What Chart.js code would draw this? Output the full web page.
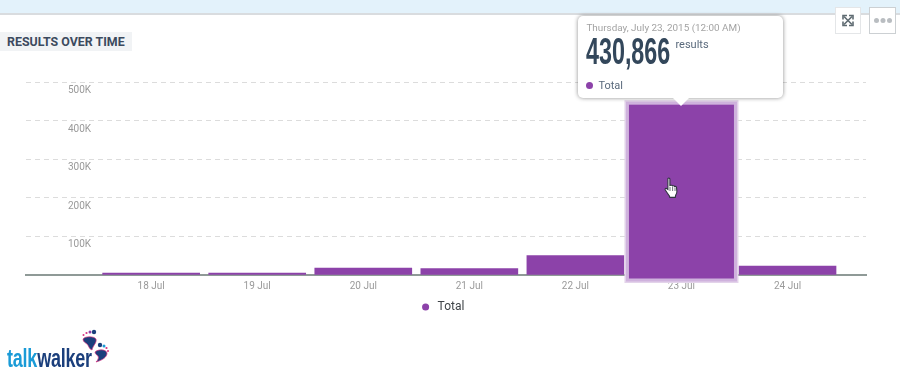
<!DOCTYPE html>
<html><head><meta charset="utf-8">
<script src="https://cdn.jsdelivr.net/npm/chart.js@4"></script>
<style>
html,body{margin:0;padding:0;background:#fff;overflow:hidden}
#wrap{position:relative;width:900px;height:378px;font-family:Roboto,sans-serif;overflow:hidden}
#c{position:absolute;left:0;top:0;width:900px;height:378px}
#band{position:absolute;left:0;top:0;width:900px;height:13px;background:#e3f2fb;border-bottom:2px solid #d9dcdf}
#title{position:absolute;left:0;top:32px;width:125px;height:19px;padding-left:7px;background:#f1f3f5;color:#3c4a5e;font:bold 12.4px/20px Roboto,sans-serif;white-space:nowrap}
.btn{position:absolute;top:7px;height:25px;background:#fff}
#tip{position:absolute;width:205px;height:82px;background:#fff;border-radius:5px;box-shadow:0 0 4px rgba(0,0,0,.45)}
#tip:after{content:"";position:absolute;left:95px;top:82px;border-left:8px solid transparent;border-right:8px solid transparent;border-top:8px solid #fff}
#tipDate{position:absolute;left:8px;top:5px;font-size:9.9px;line-height:14px;color:#a3a3a3;white-space:nowrap}
#tipVal{position:absolute;left:8px;top:17px;font:bold 37px/37px "Liberation Sans Narrow",sans-serif;color:#33475b;white-space:nowrap;transform-origin:0 0;transform:scaleX(.63)}
#tipUnit{position:absolute;left:97px;top:22px;font-size:11px;line-height:14px;color:#5a6a7c}
#tipDot{position:absolute;left:8px;top:66px;width:7px;height:7px;border-radius:50%;background:#8c42a9}
#tipName{position:absolute;left:20px;top:62px;font-size:11px;line-height:15px;color:#5a6a7c}
#cursor{position:absolute;left:664px;top:177px}
#logo{position:absolute;left:7px;top:346px;font:bold 25px/25px "Liberation Sans Narrow",sans-serif;white-space:nowrap;transform-origin:0 0;transform:scaleX(.72);letter-spacing:-.3px}
#logo .a{color:#1a9bd7}#logo .b{color:#1b3f7c}
#feet{position:absolute;left:80px;top:328px}
</style></head>
<body><div id="wrap">
<canvas id="c" width="900" height="378"></canvas>
<div id="band"></div>
<div id="title">RESULTS OVER TIME</div>
<div class="btn" style="left:835px;width:24px;border:1px solid #e4e6e8">
<svg width="24" height="25" viewBox="0 0 24 25" fill="none" stroke="#5f6b72" stroke-width="1.6"><path d="M8 8.500l8 8M16 8.500l-8 8"/><path d="M7 11.500v-4h4M17 11.500v-4h-4M7 13.500v4h4M17 13.500v4h-4" stroke-width="1.6"/></svg></div>
<div class="btn" style="left:869px;width:25px;border:1px solid #ccd0d3">
<svg width="25" height="25" viewBox="0 0 25 25" fill="#b9bdc1"><circle cx="6.500" cy="12.500" r="2.500"/><circle cx="13" cy="12.500" r="2.500"/><circle cx="19.500" cy="12.500" r="2.500"/></svg></div>
<div id="tip">
<div id="tipDate"></div><div id="tipVal"></div><div id="tipUnit">results</div><div id="tipDot"></div><div id="tipName"></div>
</div>
<svg id="cursor" width="16" height="22" viewBox="0 0 16 22"><path d="M4 1.5c.9-.9 1.9-.3 1.9.7v6.300l1-.2c.9-.2 1.500.1 1.700.6.800-.4 1.800-.2 2 .6.800-.3 1.800 0 1.900.9l.4 4c.1 1.500-.6 2.800-1.300 4l-.3 2H5.800l-.5-1.600C4.300 17.500 2.600 15 1.300 13c-.6-1 .3-2.100 1.300-1.500l1.300 1V2.500z" fill="#fff" stroke="#2f3440" stroke-width="1.100"/><path d="M6 10v4M8.600 10v4M11 10.500v3.500" stroke="#2f3440" stroke-width=".7"/></svg>
<div id="logo"><span class="a">talk</span><span class="b">walker</span></div>
<svg id="feet" width="30" height="40" viewBox="0 0 30 40">
<path d="M3 11c2-3 11-3 13 0 1 4-3 6-4 11-3-1-3-4-5-6-1-1-4-2-4-5z" fill="#1b3f7c" stroke="#d9327f" stroke-width=".7"/>
<circle cx="14" cy="4" r="2.200" fill="#1b3f7c"/><circle cx="10" cy="4" r="1.500" fill="#8c42a9"/><circle cx="6.500" cy="5" r="1.100" fill="#d9327f"/><circle cx="3.500" cy="7" r="1" fill="#d9327f"/>
<g transform="translate(3,-3)">
<path d="M12 27c3-3 11-3 12 1 0 4-4 7-11 9 2-2 3-4 2-6-1-1-3-2-3-4z" fill="#1b3f7c" stroke="#d9327f" stroke-width=".7"/>
<circle cx="17" cy="20" r="2.200" fill="#1b3f7c"/><circle cx="21" cy="21" r="1.500" fill="#1a9bd7"/><circle cx="23.500" cy="23" r="1.100" fill="#d9327f"/><circle cx="25" cy="26" r="1" fill="#d9327f"/>
</g>
</svg>
</div>
<script>
const days = [18, 19, 20, 21, 22, 23, 24];
const dayLabels = ['18 Jul', '19 Jul', '20 Jul', '21 Jul', '22 Jul', '23 Jul', '24 Jul'];
const totals = [5000, 5000, 18000, 16500, 50000, 430866, 23000];
const yTicks = [0, 100000, 200000, 300000, 400000, 500000];
const seriesName = 'Total';
const hoveredIndex = 5;
const hoveredDate = 'Thursday, July 23, 2015 (12:00 AM)';
const purple = '#8c42a9';

const highlight = {
  id: 'highlight',
  afterLayout(chart) {
    chart.legend.left -= 4;
    chart.legend.right -= 4;
  },
  afterDatasetsDraw(chart) {
    const bar = chart.getDatasetMeta(0).data[hoveredIndex];
    const ctx = chart.ctx;
    const l = bar.x - bar.width / 2, r = bar.x + bar.width / 2;
    ctx.save();
    ctx.fillStyle = '#e3d3ea';
    ctx.fillRect(l - 8.5, bar.y - 8.5, r - l + 17, bar.base - bar.y + 17);
    ctx.fillStyle = '#cfb2dd';
    ctx.fillRect(l - 7, bar.y - 7, r - l + 14, bar.base - bar.y + 14);
    ctx.fillStyle = purple;
    ctx.fillRect(l - 4, bar.y - 4, r - l + 8, bar.base - bar.y + 8);
    ctx.restore();
  },
  afterRender(chart) {
    const bar = chart.getDatasetMeta(0).data[hoveredIndex];
    const tip = document.getElementById('tip');
    tip.style.left = (bar.x - 103) + 'px';
    tip.style.top = (bar.y - 92.5) + 'px';
  }
};

document.getElementById('tipDate').textContent = hoveredDate;
document.getElementById('tipVal').textContent = totals[hoveredIndex].toLocaleString('en-US');
document.getElementById('tipName').textContent = seriesName;

new Chart(document.getElementById('c'), {
  type: 'bar',
  data: {
    datasets: [{
      label: seriesName,
      data: days.map((d, i) => ({ x: d, y: totals[i] })),
      backgroundColor: purple,
      borderWidth: 0,
      barThickness: 97
    }]
  },
  plugins: [highlight],
  options: {
    responsive: false,
    animation: false,
    events: [],
    layout: { padding: { left: 26, right: 34, top: 82, bottom: 55 } },
    plugins: {
      tooltip: { enabled: false },
      legend: {
        position: 'bottom',
        labels: {
          usePointStyle: true, pointStyle: 'circle', boxWidth: 12, boxHeight: 5,
          color: '#3f4448', font: { family: 'Roboto', size: 12 }, padding: 4
        }
      }
    },
    scales: {
      x: {
        type: 'linear',
        offset: false,
        min: 16.82, max: 24.74,
        afterBuildTicks(axis) { axis.ticks = days.map(v => ({ value: v })); },
        grid: { display: false, drawTicks: false },
        border: { color: '#8f9a97', width: 2 },
        ticks: {
          autoSkip: false, maxRotation: 0, padding: 5,
          color: '#9a9a9a', font: { family: 'Roboto', size: 10 },
          callback: v => dayLabels[days.indexOf(v)] || ''
        }
      },
      y: {
        min: 0, max: 500000,
        afterFit(axis) { axis.width = 0; },
        afterBuildTicks(axis) { axis.ticks = yTicks.map(v => ({ value: v })); },
        grid: {
          drawTicks: false,
          color: c => c.tick && c.tick.value === 0 ? 'rgba(0,0,0,0)' : '#dcdcdc',
          lineWidth: 1
        },
        border: { display: false, dash: [5, 4] },
        ticks: {
          mirror: true, padding: 42, labelOffset: 8.5,
          color: '#9a9a9a', font: { family: 'Roboto', size: 10 },
          callback: v => v === 0 ? '' : (v / 1000) + 'K'
        }
      }
    }
  }
});
</script>
</body></html>
